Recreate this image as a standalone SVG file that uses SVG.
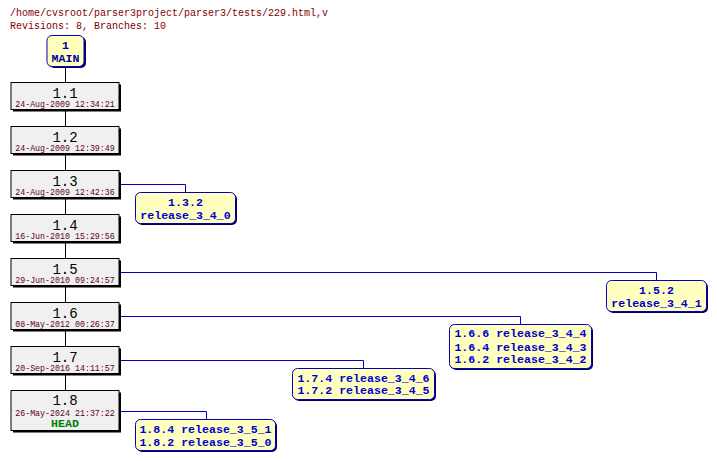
<svg xmlns="http://www.w3.org/2000/svg" width="717" height="461" viewBox="0 0 717 461">
<style>
.hdr{font-family:"Liberation Mono",monospace;font-size:10px;fill:#800000}
.rev{fill:#f0f0f0;stroke:#000;stroke-width:1}
.sh{fill:#000}
.bsh{fill:#000060}
.br{fill:#ffffc0;stroke:#0000c0;stroke-width:1}
.rn{font-family:"Liberation Mono",monospace;font-size:14px;fill:#000;text-anchor:middle}
.dt{font-family:"Liberation Mono",monospace;font-size:8.3px;fill:#600020;text-anchor:middle}
.bt{font-family:"Liberation Mono",monospace;font-size:11.6px;font-weight:bold;fill:#0000d0;text-anchor:middle}
.mt{font-family:"Liberation Mono",monospace;font-size:11.6px;font-weight:bold;fill:#0000a0;text-anchor:middle}
.hd{font-family:"Liberation Mono",monospace;font-size:11.6px;font-weight:bold;fill:#008000;text-anchor:middle}
.cn{fill:none;stroke:#000;stroke-width:1}
.cb{fill:none;stroke:#0000c0;stroke-width:1}
</style>
<rect width="717" height="461" fill="#fff"/>
<text class="hdr" x="10" y="16">/home/cvsroot/parser3project/parser3/tests/229.html,v</text>
<text class="hdr" x="10" y="29">Revisions: 8, Branches: 10</text>
<g id="connectors">
<path class="cn" d="M65.5 66 V390.5"/>
<path class="cb" d="M119 184.5 H185.5 V192.5"/>
<path class="cb" d="M119 272.5 H656.5 V280.5"/>
<path class="cb" d="M119 316.5 H520.5 V324.5"/>
<path class="cb" d="M119 360.5 H363.5 V368.5"/>
<path class="cb" d="M119 411.5 H206.5 V419.5"/>
</g>
<g id="main">
<rect class="bsh" x="49" y="37" width="37" height="31" rx="5"/>
<rect class="br" x="47" y="35.5" width="37" height="31" rx="5"/>
<text class="mt" x="65.5" y="49">1</text>
<text class="mt" x="65.5" y="62">MAIN</text>
</g>
<g id="r1.1">
<rect class="sh" x="13" y="84.5" width="108" height="27"/>
<rect class="rev" x="11" y="82.5" width="108" height="27"/>
<text class="rn" x="65" y="97.5">1.1</text>
<text class="dt" x="65" y="107">24-Aug-2009 12:34:21</text>
</g>
<g id="r1.2">
<rect class="sh" x="13" y="128.5" width="108" height="27"/>
<rect class="rev" x="11" y="126.5" width="108" height="27"/>
<text class="rn" x="65" y="141.5">1.2</text>
<text class="dt" x="65" y="151">24-Aug-2009 12:39:49</text>
</g>
<g id="r1.3">
<rect class="sh" x="13" y="172.5" width="108" height="27"/>
<rect class="rev" x="11" y="170.5" width="108" height="27"/>
<text class="rn" x="65" y="185.5">1.3</text>
<text class="dt" x="65" y="195">24-Aug-2009 12:42:36</text>
</g>
<g id="r1.4">
<rect class="sh" x="13" y="216.5" width="108" height="27"/>
<rect class="rev" x="11" y="214.5" width="108" height="27"/>
<text class="rn" x="65" y="229.5">1.4</text>
<text class="dt" x="65" y="239">16-Jun-2010 15:29:56</text>
</g>
<g id="r1.5">
<rect class="sh" x="13" y="260.5" width="108" height="27"/>
<rect class="rev" x="11" y="258.5" width="108" height="27"/>
<text class="rn" x="65" y="273.5">1.5</text>
<text class="dt" x="65" y="283">29-Jun-2010 09:24:57</text>
</g>
<g id="r1.6">
<rect class="sh" x="13" y="304.5" width="108" height="27"/>
<rect class="rev" x="11" y="302.5" width="108" height="27"/>
<text class="rn" x="65" y="317.5">1.6</text>
<text class="dt" x="65" y="327">08-May-2012 00:26:37</text>
</g>
<g id="r1.7">
<rect class="sh" x="13" y="348.5" width="108" height="27"/>
<rect class="rev" x="11" y="346.5" width="108" height="27"/>
<text class="rn" x="65" y="361.5">1.7</text>
<text class="dt" x="65" y="371">20-Sep-2016 14:11:57</text>
</g>
<g id="r1.8">
<rect class="sh" x="13" y="392.5" width="108" height="40"/>
<rect class="rev" x="11" y="390.5" width="108" height="40"/>
<text class="rn" x="65" y="405">1.8</text>
<text class="dt" x="65" y="415.5">26-May-2024 21:37:22</text>
<text class="hd" x="65" y="427">HEAD</text>
</g>
<g id="b1.3.2">
<rect class="bsh" x="137" y="194" width="100" height="31" rx="5"/>
<rect class="br" x="135.5" y="192.5" width="100" height="31" rx="5"/>
<text class="bt" x="185.5" y="206">1.3.2</text>
<text class="bt" x="185.5" y="218.5">release_3_4_0</text>
</g>
<g id="b1.5.2">
<rect class="bsh" x="608" y="282" width="100" height="31" rx="5"/>
<rect class="br" x="606.5" y="280.5" width="100" height="31" rx="5"/>
<text class="bt" x="656.5" y="294">1.5.2</text>
<text class="bt" x="656.5" y="306.5">release_3_4_1</text>
</g>
<g id="b1.6">
<rect class="bsh" x="451" y="326" width="142" height="44" rx="5"/>
<rect class="br" x="449.5" y="324.5" width="142" height="44" rx="5"/>
<text class="bt" x="520.5" y="337.3">1.6.6 release_3_4_4</text>
<text class="bt" x="520.5" y="350.5">1.6.4 release_3_4_3</text>
<text class="bt" x="520.5" y="363.3">1.6.2 release_3_4_2</text>
</g>
<g id="b1.7">
<rect class="bsh" x="294" y="370" width="142" height="31" rx="5"/>
<rect class="br" x="292.5" y="368.5" width="142" height="31" rx="5"/>
<text class="bt" x="363.5" y="381.7">1.7.4 release_3_4_6</text>
<text class="bt" x="363.5" y="394.3">1.7.2 release_3_4_5</text>
</g>
<g id="b1.8">
<rect class="bsh" x="137" y="421" width="140" height="31" rx="5"/>
<rect class="br" x="135.5" y="419.5" width="140" height="31" rx="5"/>
<text class="bt" x="205.5" y="433.3">1.8.4 release_3_5_1</text>
<text class="bt" x="205.5" y="445.7">1.8.2 release_3_5_0</text>
</g>
</svg>
